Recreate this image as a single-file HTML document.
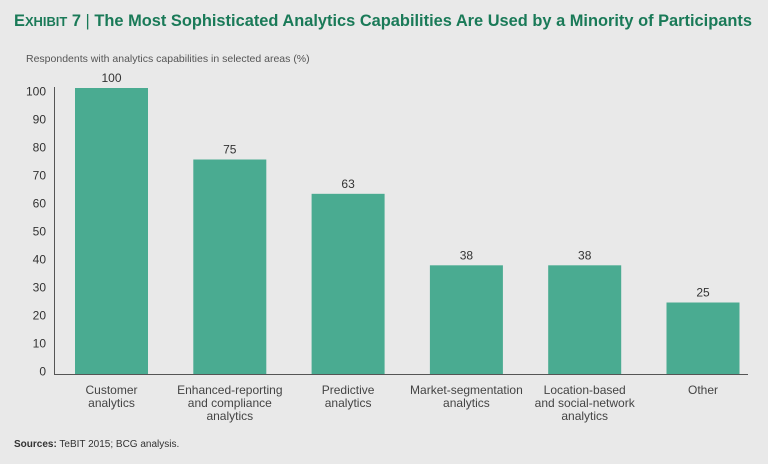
<!DOCTYPE html>
<html><head><meta charset="utf-8"><style>
body{margin:0;width:768px;height:464px;background:#e9e9e9;font-family:"Liberation Sans",sans-serif;overflow:hidden}
svg{display:block}
</style></head><body>
<svg width="768" height="464" id="c">
<text x="14" y="26" font-size="16.5" font-weight="bold" fill="#1a7a58" textLength="738" lengthAdjust="spacingAndGlyphs">E<tspan font-size="13">XHIBIT</tspan> 7 <tspan font-weight="normal">|</tspan> The Most Sophisticated Analytics Capabilities Are Used by a Minority of Participants</text>
<text x="26" y="62" font-size="10.5" fill="#555">Respondents with analytics capabilities in selected areas (%)</text>
<text x="14" y="447" font-size="10" fill="#333"><tspan font-weight="bold">Sources:</tspan> TeBIT 2015; BCG analysis.</text>
<g id="g"></g>
</svg>
<script>
const categories=[["Customer","analytics"],["Enhanced-reporting","and compliance","analytics"],["Predictive","analytics"],["Market-segmentation","analytics"],["Location-based","and social-network","analytics"],["Other"]];
const values=[100,75,63,38,38,25];
const ticks=[0,10,20,30,40,50,60,70,80,90,100];
const NS="http://www.w3.org/2000/svg",g=document.getElementById('g');
const base=374,k=2.86,x0=75,pitch=118.3,bw=73;
const y=v=>base-v*k;
const ty=v=>371-v*2.8;
function mk(t,a,txt){const e=document.createElementNS(NS,t);for(const q in a)e.setAttribute(q,a[q]);if(txt!=null)e.textContent=txt;g.appendChild(e);return e;}
ticks.forEach(t=>{const e=mk('text',{x:46,y:ty(t)+4.5,'font-size':12,fill:'#333','text-anchor':'end'},t);

});
values.forEach((v,i)=>{const x=x0+i*pitch;
const r=mk('rect',{x:x,y:y(v),width:bw,height:v*k,fill:'#4aab91'});


const l=mk('text',{x:x+bw/2,y:y(v)-6,'font-size':12,fill:'#333','text-anchor':'middle'},v);


categories[i].forEach((s,j)=>{const c=mk('text',{x:x+bw/2,y:394+j*13,'font-size':12,fill:'#444','text-anchor':'middle'},s);

});
});
const ax=mk('path',{d:'M54.5 87V374.5H748',stroke:'#555','stroke-width':1,fill:'none'});


</script>
</body></html>
